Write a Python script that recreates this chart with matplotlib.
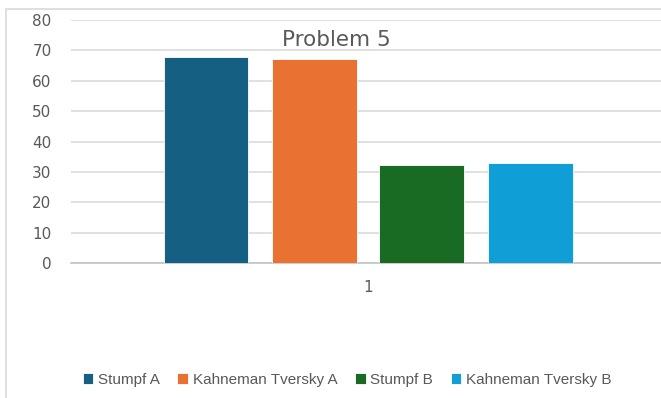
import matplotlib.pyplot as plt
import matplotlib.patches as mpatches
import numpy as np

# -----------------------------
# DATI
# -----------------------------
categorie = ["1"]
serie = ["Stumpf A", "Kahneman Tversky A", "Stumpf B", "Kahneman Tversky B"]
valori = [67.8, 67.0, 32.3, 32.9]
colori = ["#156082", "#E97132", "#196B24", "#0F9ED5"]
yticks = [0, 10, 20, 30, 40, 50, 60, 70, 80]

# -----------------------------
# FIGURA
# -----------------------------
W, H = 661, 398
fig = plt.figure(figsize=(W / 100, H / 100), dpi=100)
ax = fig.add_axes([71 / W, 1 - 263 / H, (665 - 71) / W, (263 - 20) / H])

# cornice esterna stile Excel
fig.patches.append(mpatches.Rectangle((6 / W, -0.1), 1.2, 1 - 9 / H + 0.1,
                                      transform=fig.transFigure, fill=False,
                                      edgecolor="#D9D9D9", linewidth=1.2))

x = np.arange(len(categorie)) + 1
larg = 85 / 594
passo = 108 / 594
for i, (nome, v, c) in enumerate(zip(serie, valori, colori)):
    ax.bar(x + (i - 1.5) * passo, [v], width=larg, color=c,
           edgecolor="white", linewidth=0.6, label=nome, zorder=3)

ax.set_xlim(0.5, 1.5)
ax.set_ylim(0, 80)
ax.set_yticks(yticks)
ax.set_xticks(x)
ax.set_xticklabels(categorie)
ax.grid(axis="y", color="#D9D9D9", linewidth=1.1, zorder=0)
for s in ["top", "right", "left"]:
    ax.spines[s].set_visible(False)
ax.spines["bottom"].set_color("#BFBFBF")
ax.spines["bottom"].set_linewidth(1.1)
ax.tick_params(length=0, labelcolor="#595959", labelsize=11)
ax.tick_params(axis="y", pad=14)
ax.tick_params(axis="x", pad=12)

fig.text(336 / W, 1 - 40 / H, "Problem 5", ha="center", va="center",
         fontsize=15.5, color="#595959")

fig.legend(loc="center", bbox_to_anchor=(347 / W, 1 - 380 / H), ncol=4,
           frameon=False, handlelength=0.7, handleheight=0.7,
           handletextpad=0.3, columnspacing=1.15, labelcolor="#595959",
           prop={"family": "Liberation Sans", "size": 11})

fig.savefig("out.png", dpi=100)
